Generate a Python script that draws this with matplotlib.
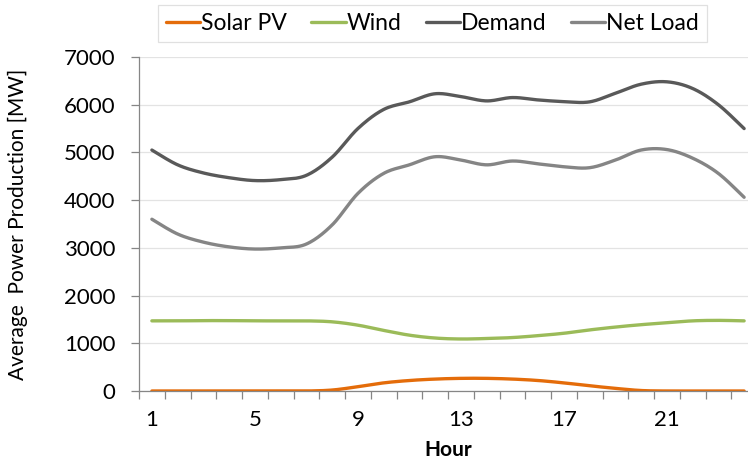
import numpy as np
import matplotlib
matplotlib.use("Agg")
import matplotlib.pyplot as plt

plt.rcParams['font.family'] = ['Lato', 'DejaVu Sans']

hours = list(range(1, 25))
solar = [0, 0, 0, 0, 0, 0, 0, 20, 90, 170, 220, 250,
         265, 265, 250, 220, 170, 110, 55, 10, 0, 0, 0, 0]
wind = [1470, 1470, 1475, 1475, 1470, 1470, 1470, 1450, 1380, 1270, 1170, 1110,
        1090, 1100, 1120, 1160, 1210, 1280, 1340, 1390, 1430, 1470, 1480, 1470]
demand = [5050, 4740, 4570, 4470, 4410, 4430, 4520, 4900, 5500, 5900, 6060, 6230,
          6170, 6080, 6150, 6100, 6065, 6060, 6240, 6430, 6480, 6340, 6000, 5500]
net_load = [3600, 3290, 3120, 3020, 2975, 3000, 3080, 3480, 4140, 4560, 4740, 4910,
            4840, 4740, 4820, 4760, 4700, 4680, 4840, 5050, 5060, 4880, 4560, 4060]

series = [("Solar PV", solar, "#E46C0A"),
          ("Wind", wind, "#9BBB59"),
          ("Demand", demand, "#595959"),
          ("Net Load", net_load, "#858585")]


def smooth(x, y, n=20):
    # catmull-rom, roughly what excel does for "smoothed line"
    x = np.asarray(x, float)
    y = np.asarray(y, float)
    px = np.concatenate([[x[0]], x, [x[-1]]])
    py = np.concatenate([[y[0]], y, [y[-1]]])
    xs, ys = [], []
    t = np.linspace(0, 1, n, endpoint=False)
    for i in range(1, len(px) - 2):
        for p, out in ((px, xs), (py, ys)):
            p0, p1, p2, p3 = p[i - 1], p[i], p[i + 1], p[i + 2]
            out.extend(0.5 * ((2 * p1) + (-p0 + p2) * t
                              + (2 * p0 - 5 * p1 + 4 * p2 - p3) * t ** 2
                              + (-p0 + 3 * p1 - 3 * p2 + p3) * t ** 3))
    xs.append(x[-1])
    ys.append(y[-1])
    return np.array(xs), np.array(ys)


fig = plt.figure(figsize=(7.48, 4.62), dpi=100)
ax = fig.add_axes([139 / 748, 71 / 462, 618 / 748, 334 / 462])

for name, vals, color in series:
    sx, sy = smooth(hours, vals)
    ax.plot(sx, sy, color=color, lw=2.4, label=name, solid_capstyle='round')

ax.set_xlim(0.5, 24.5)
ax.set_ylim(0, 7000)
ax.set_yticks(range(0, 7001, 1000))
ax.set_xticks([1, 5, 9, 13, 17, 21])
ax.set_xticks(np.arange(0.5, 24.6, 1), minor=True)
ax.tick_params(axis='x', which='major', length=0, labelsize=16, pad=14)
ax.tick_params(axis='x', which='minor', length=6, color='#868686', width=0.9)
ax.tick_params(axis='y', length=6, color='#868686', width=0.9, labelsize=16, pad=11)
ax.grid(axis='y', color='#E3E3E3', lw=0.9)
ax.set_axisbelow(True)
for s in ['top', 'right']:
    ax.spines[s].set_visible(False)
for s in ['left', 'bottom']:
    ax.spines[s].set_color('#868686')
    ax.spines[s].set_linewidth(0.9)

ax.set_ylabel("Average  Power Production [MW]", fontsize=15, labelpad=26)
ax.set_xlabel("Hour", fontsize=15, fontweight='bold', labelpad=7)

leg = fig.legend(loc='center', bbox_to_anchor=(432.5 / 748, 1 - 23.5 / 462), ncol=4,
                 fontsize=16.5, frameon=True, fancybox=False, handlelength=1.5,
                 handletextpad=0.05, columnspacing=1.05, borderpad=0.35)
leg.get_frame().set_edgecolor('#D9D9D9')
leg.get_frame().set_linewidth(0.9)

fig.savefig("out.png", dpi=100)
